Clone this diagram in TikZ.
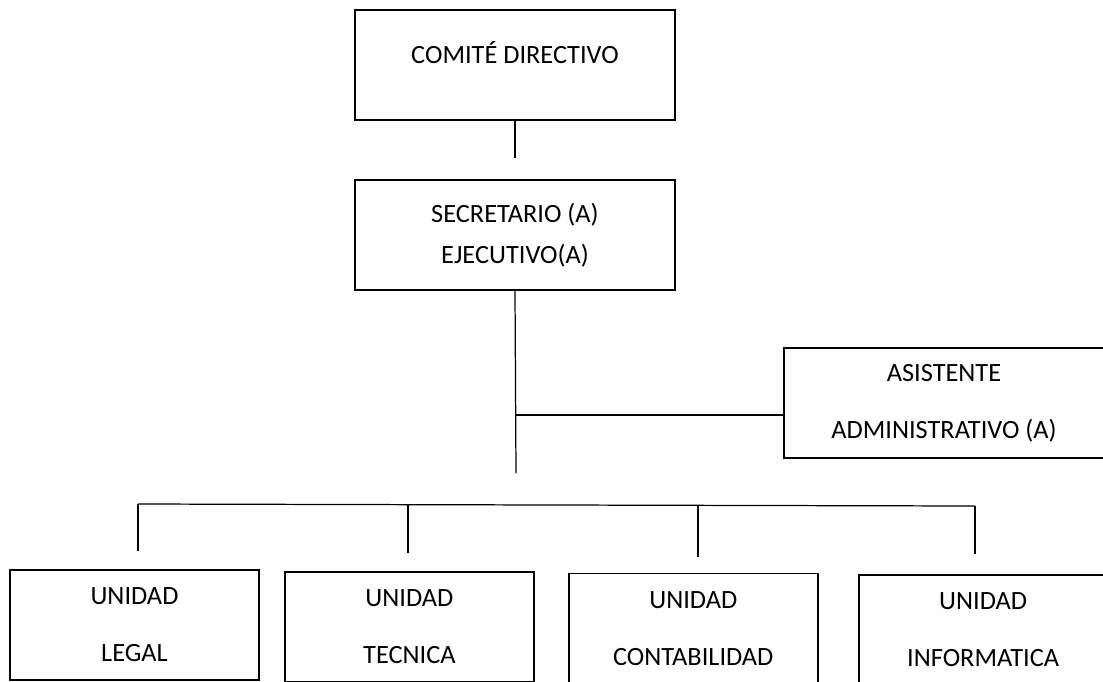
\documentclass[tikz,border=0pt]{standalone}
\usepackage{fontspec}
\setmainfont{Carlito}
\usepackage{tikz}
\usetikzlibrary{positioning}

\begin{document}
\begin{tikzpicture}[
      x=0.02cm, y=-0.02cm,
      orgbox/.style={
         rectangle,
         draw=black,
         line width=1.1pt,
         align=center,
         inner sep=2pt,
         minimum width=6.4cm,
         minimum height=2.2cm,
         font=\fontsize{15}{18}\selectfont},
      unitbox/.style={orgbox, minimum width=4.98cm},
      myline/.style={line width=0.7pt},
      node distance=1.16cm and 0.48cm
      ]
\clip (0,0) rectangle (1103,681);

\node[orgbox, text height=0.3cm, text depth=0.38cm] (dir) at (515,65) {COMITÉ DIRECTIVO};
\node[orgbox, below=of dir] (sec) {SECRETARIO (A)\\[5.5pt] EJECUTIVO(A)};
\node[orgbox] (asis) at (944,403) {ASISTENTE\\[14.4pt] ADMINISTRATIVO (A)};

\node[unitbox                                       ] (legal)   at (134.5,625) {UNIDAD\\[14.4pt] LEGAL};
\node[unitbox,right=of legal,yshift=-0.04cm         ] (tecnica) {UNIDAD\\[14.4pt] TECNICA};
\node[unitbox,right=0.66cm of tecnica,yshift=-0.03cm] (conta)   {UNIDAD\\[14.4pt] CONTABILIDAD};
\node[unitbox,right=0.78cm of conta,yshift=-0.03cm  ] (info)    {UNIDAD\\[14.4pt] INFORMATICA};

\coordinate (dirend) at (515,158);
\coordinate (secend) at (516,473);
\coordinate (fork)   at (516,415);
\coordinate (busL)   at (138,504);
\coordinate (busR)   at (975,506);
\coordinate (legalend)   at (138,551);
\coordinate (tecnicatop) at (408,505);
\coordinate (tecnicaend) at (408,553);
\coordinate (contatop)   at (698,505);
\coordinate (contaend)   at (698,557);
\coordinate (infoend)    at (975,554);

\foreach \i/\j in {% start/end
      dir.south/dirend, sec.south/secend, fork/asis.west |- fork,
      busL/busR,
      busL/legalend, tecnicatop/tecnicaend, contatop/contaend, busR/infoend}
       \draw[myline] (\i) -- (\j);

\end{tikzpicture}
\end{document}
